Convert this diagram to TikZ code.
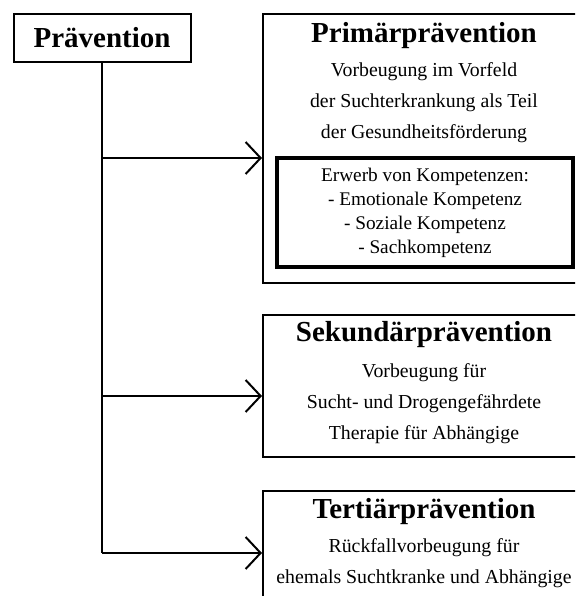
\documentclass[tikz,border=0pt]{standalone}
\usepackage{fontspec}
\setmainfont{Liberation Serif}
\usetikzlibrary{positioning,arrows.meta}
\tikzstyle{box}=[
  draw,rectangle,line width=2pt,inner sep=0pt
]
\tikzstyle{kompbox}=[
  draw,rectangle,line width=3.5pt,inner sep=0pt
]
\tikzstyle{title}=[
  font=\fontsize{29}{30}\selectfont\bfseries,inner sep=0pt
]
\tikzstyle{body}=[
  font=\fontsize{19.8}{31}\selectfont,align=center,inner sep=0pt
]
\tikzstyle{small}=[
  font=\fontsize{19.3}{24}\selectfont,align=center,inner sep=0pt
]
\tikzstyle{link}=[
  line width=2pt,-{Straight Barb[length=15pt,width=32pt,line width=2pt]}
]

\begin{document}
\begin{tikzpicture}[x=1pt,y=-1pt]
    \useasboundingbox (0,0) rectangle (575,596);
    \clip (0,0) rectangle (575,596);
      \node (praev) at (102,38) [box,title,minimum width=177pt,minimum height=48pt] {Prävention};
      \node (prim) at (424,148.5) [box,minimum width=322pt,minimum height=269pt] {};
      \node (komp) at (425,212.5) [kompbox,minimum width=296pt,minimum height=109pt] {};
      \node (sek) at (424,386) [box,minimum width=322pt,minimum height=142pt] {};
      \node (ter) at (424,553) [box,minimum width=322pt,minimum height=124pt] {};
      \node (primtitle) at (424,36) [title] {Primärprävention};
      \node (primtext) at (424,102.5) [body] {Vorbeugung im Vorfeld\\der Suchterkrankung als Teil\\der Gesundheitsförderung};
      \node (komptext) at (425,212.5) [small] {Erwerb von Kompetenzen:\\- Emotionale Kompetenz\\- Soziale Kompetenz\\- Sachkompetenz};
      \node (sektitle) at (424,335) [title] {Sekundärprävention};
      \node (sektext) at (424,404) [body] {Vorbeugung für\\Sucht- und Drogengefährdete\\Therapie für Abhängige};
      \node (tertitle) at (424,512) [title] {Tertiärprävention};
      \node (tertext) at (424,563) [body] {Rückfallvorbeugung für\\ehemals Suchtkranke und Abhängige};
      \coordinate (j1) at (102,158);
      \coordinate (j2) at (102,396);
      \coordinate (j3) at (102,553);
      \draw [line width=2pt] (praev.south) -- (j3);
      \draw [link] (j1) -- (j1 -| prim.west);
      \draw [link] (j2) -- (j2 -| sek.west);
      \draw [link] (j3) -- (j3 -| ter.west);
    \end{tikzpicture}
\end{document}
